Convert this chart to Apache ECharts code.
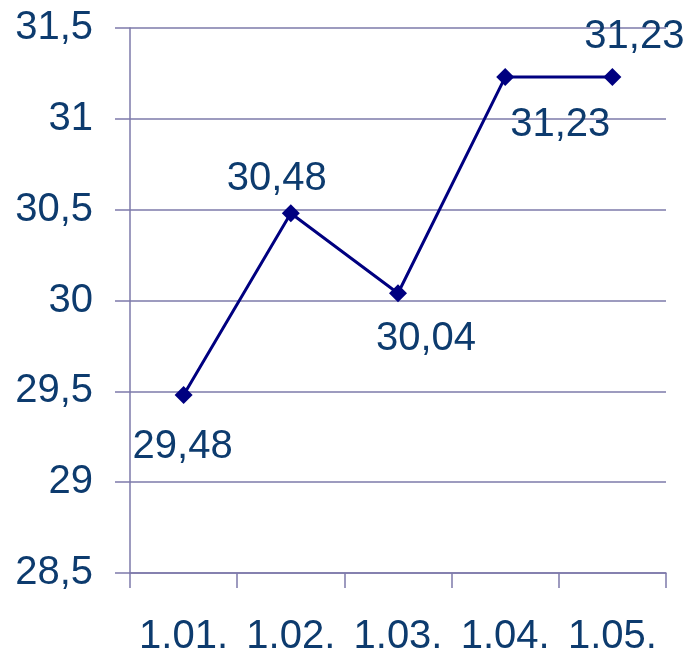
<!DOCTYPE html>
<html>
<head>
<meta charset="utf-8">
<script src="https://cdn.jsdelivr.net/npm/echarts@6/dist/echarts.min.js"></script>
<style>
html,body{margin:0;padding:0;background:#fff;}
#chart{width:691px;height:657px;}
</style>
</head>
<body>
<div id="chart"></div>
<script>
const categories = ['1.01.', '1.02.', '1.03.', '1.04.', '1.05.'];
const values = [29.48, 30.48, 30.04, 31.23, 31.23];
const yMin = 28.5, yMax = 31.5, yStep = 0.5;
const labelOffsets = [[-1, 52], [-14, -34], [28, 46], [55, 48], [22, -40]];

const textColor = '#0d3b6e';
const axisColor = '#7d7aaa';
const font = '"Liberation Sans", Arial, sans-serif';
const fmt = v => String(v).replace('.', ',');

const chart = echarts.init(document.getElementById('chart'), null, {renderer: 'canvas'});
chart.setOption({
  animation: false,
  backgroundColor: '#ffffff',
  grid: {left: 130, right: 25, top: 28, bottom: 83, containLabel: false},
  xAxis: {
    type: 'category',
    data: categories,
    boundaryGap: true,
    axisLine: {show: true, lineStyle: {color: axisColor, width: 1.5}},
    axisTick: {show: true, interval: 0, length: 15, alignWithLabel: false, lineStyle: {color: axisColor, width: 1.5}},
    axisLabel: {interval: 0, color: textColor, fontSize: 40, fontFamily: font, margin: 44},
    splitLine: {show: false}
  },
  yAxis: {
    type: 'value',
    min: yMin, max: yMax, interval: yStep,
    axisLine: {show: true, lineStyle: {color: axisColor, width: 1.5}},
    axisTick: {show: true, length: 15, lineStyle: {color: axisColor, width: 1.5}},
    axisLabel: {color: textColor, fontSize: 40, fontFamily: font, margin: 37, formatter: fmt},
    splitLine: {show: true, lineStyle: {color: axisColor, width: 1.5}}
  },
  series: [{
    type: 'line',
    data: values.map((v, i) => ({
      value: v,
      label: {offset: labelOffsets[i]}
    })),
    symbol: 'diamond',
    symbolSize: 18,
    lineStyle: {color: '#000080', width: 3},
    itemStyle: {color: '#000080'},
    label: {
      show: true,
      position: 'inside',
      color: textColor,
      fontSize: 40,
      fontFamily: font,
      formatter: p => fmt(p.value)
    },
    z: 5
  }]
});
</script>
</body>
</html>
